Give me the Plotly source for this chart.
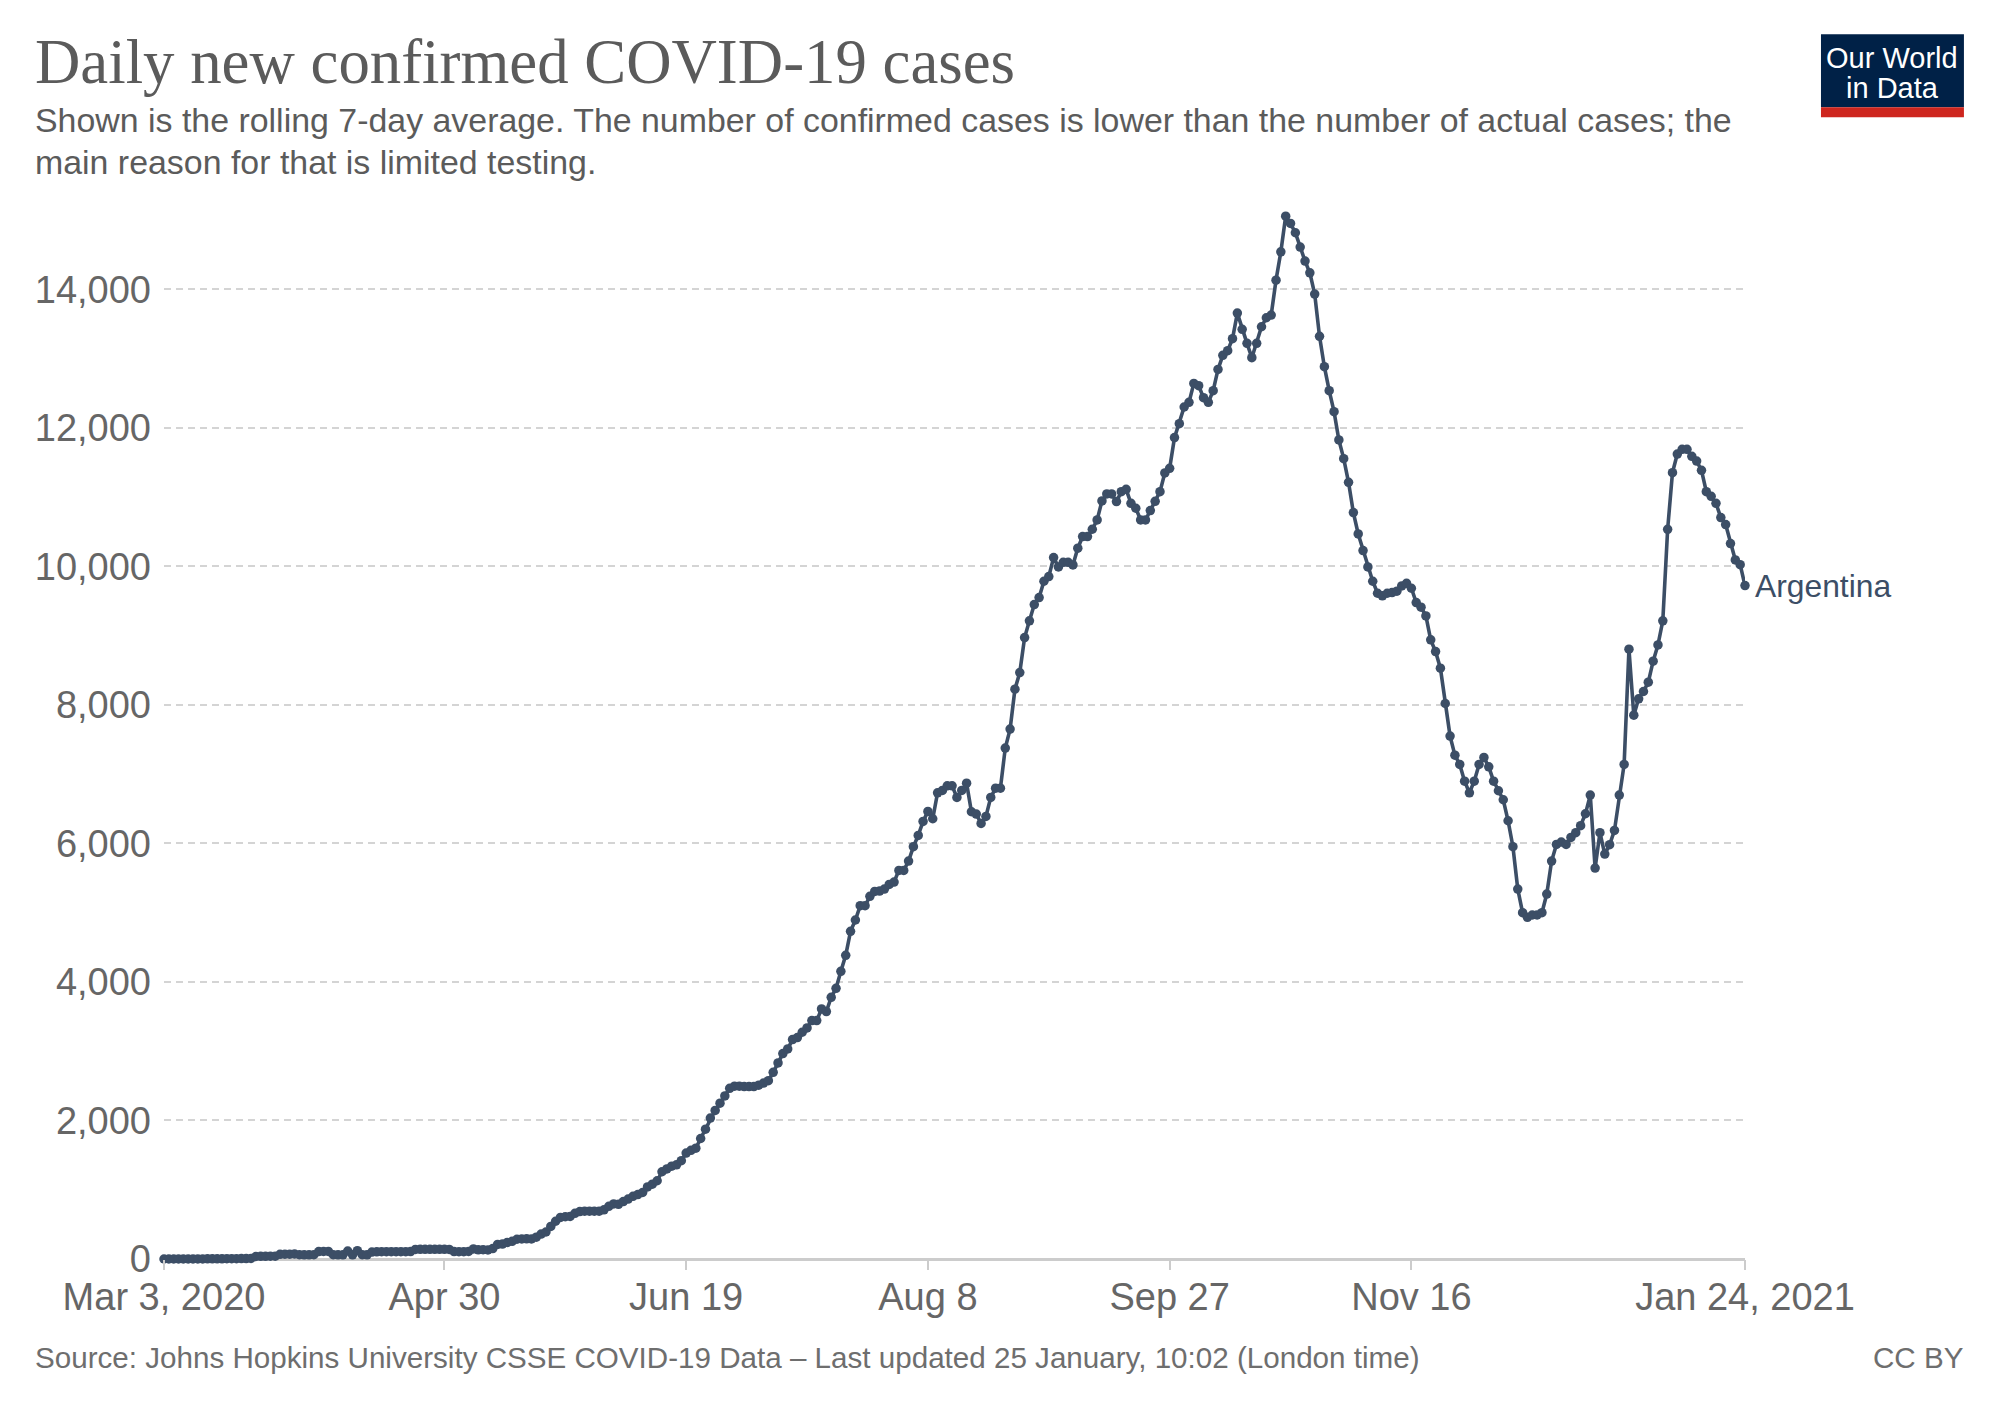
import pandas as pd
import plotly.graph_objects as go

title = "Daily new confirmed COVID-19 cases"
subtitle = ["Shown is the rolling 7-day average. The number of confirmed cases is lower than the number of actual cases; the",
            "main reason for that is limited testing."]
source = "Source: Johns Hopkins University CSSE COVID-19 Data – Last updated 25 January, 10:02 (London time)"
licence = "CC BY"
country = "Argentina"
start_date = "2020-03-03"

tick_dates = ["2020-03-03", "2020-04-30", "2020-06-19", "2020-08-08", "2020-09-27", "2020-11-16", "2021-01-24"]
tick_labels = ["Mar 3, 2020", "Apr 30", "Jun 19", "Aug 8", "Sep 27", "Nov 16", "Jan 24, 2021"]
y_ticks = [0, 2000, 4000, 6000, 8000, 10000, 12000, 14000]

cases_a = [0, 0, 0, 0, 0, 0, 1, 1, 1, 2, 2, 3, 3, 4, 5, 5, 6, 7, 8,
           36, 38, 38, 40, 40, 68, 70, 70, 72, 62, 60, 60, 62, 108, 110, 110, 62, 60, 60,
           115, 60, 120, 62, 60, 100, 104, 105, 105, 105, 105, 105, 106, 108,
           138, 140, 140, 140, 140, 140, 140, 138, 108, 105, 105, 110, 145, 132, 135, 130, 150]
cases_b = [210, 215, 240, 255, 285, 290, 292, 290, 315, 360, 390, 470, 545, 600, 610, 615, 660,
           685, 690, 690, 690, 690, 710, 760, 795, 790, 830, 865, 905, 930, 960, 1040, 1080, 1130,
           1260, 1300, 1340, 1360, 1420, 1530, 1570, 1600, 1740, 1875, 2035, 2145, 2250, 2355, 2465,
           2495, 2495, 2490, 2490, 2490, 2510, 2540, 2575]
cases_c = [2696, 2831, 2966, 3033, 3168, 3197, 3274, 3336, 3442, 3442, 3610, 3572, 3779, 3909, 4154,
           4385, 4731, 4895, 5101, 5101, 5236, 5308, 5313, 5342, 5409, 5443, 5611, 5611, 5746, 5953,
           6116, 6318, 6463, 6357, 6732, 6766, 6833, 6833, 6665, 6766, 6871, 6458, 6424, 6290, 6390]
cases_d = [6665, 6799, 6799, 7377, 7651, 8228, 8468, 8973, 9214, 9450, 9551, 9786, 9854, 10128, 9993,
           10060, 10060, 10022, 10263, 10431, 10431, 10537, 10671, 10946, 11047, 11047, 10936, 11080,
           11114, 10912, 10840, 10671, 10671, 10806, 10941, 11080, 11350, 11417, 11860, 12062, 12302,
           12369, 12643, 12610, 12437, 12369, 12538, 12845, 13048, 13115, 13288, 13658, 13423, 13221,
           13014, 13221, 13461, 13591, 13630]
cases_e = [14134, 14543, 15058, 14952, 14818, 14611, 14409, 14240, 13933, 13322, 12884, 12538, 12235,
           11826, 11556, 11215, 10777, 10469, 10229, 9993, 9786, 9613, 9575, 9613, 9623, 9642, 9719,
           9757, 9685, 9478, 9411, 9286, 8940, 8771, 8531, 8021, 7550, 7275, 7141, 6900, 6732, 6900,
           7141, 7242, 7107, 6900, 6761, 6631, 6328, 5953, 5342, 5000]
cases_f = [4933, 4967, 4967, 5000, 5270, 5746, 5986, 6020, 5986, 6087, 6155, 6256, 6429, 6698, 5645,
           6155, 5847, 5982, 6188, 6698, 7141, 8805, 7853, 8088, 8194, 8329, 8632, 8867, 9214, 10536,
           11354, 11623, 11691, 11691, 11590, 11522, 11388, 11080, 11013, 10911, 10705, 10604, 10330,
           10094, 10026, 9723]

cases = cases_a + cases_b + cases_c + cases_d + cases_e + cases_f
dates = pd.date_range(start_date, periods=len(cases), freq="D")

W, H = 2000, 1412
L, R = 163.5, 1745.0
T, B = 215.8, 1259.5
def px(x): return (x - L) / (R - L)
def py(y): return (B - y) / (B - T)

INK = "#3c4e66"
GREY = "#5b5b5b"

fig = go.Figure()
fig.add_trace(go.Scatter(x=dates, y=cases, mode="lines+markers", cliponaxis=False,
                         line=dict(color=INK, width=3.6), marker=dict(color=INK, size=9.5),
                         showlegend=False))

def label(text, x, y, size, color=GREY, family="Liberation Sans", xanchor="left"):
    fig.add_annotation(text=text, x=px(x), y=py(y), xref="paper", yref="paper", showarrow=False,
                       xanchor=xanchor, yanchor="middle", align=xanchor,
                       font=dict(size=size, color=color, family=family))

label(title, 32, 62, 62.8, family="Liberation Serif")
label(subtitle[0], 32, 120, 33.9)
label(subtitle[1], 32, 162, 33.9)
label(source, 32, 1358, 29.6, color="#6e6e6e")
label(licence, 1966, 1358, 29.6, color="#6e6e6e", xanchor="right")
label("Our World", 1892.5, 58, 29, color="#ffffff", xanchor="center")
label("in Data", 1892.5, 88, 29, color="#ffffff", xanchor="center")

fig.add_shape(type="rect", xref="paper", yref="paper", x0=px(1821), x1=px(1964), y0=py(34), y1=py(107),
              fillcolor="#002147", line_width=0, layer="below")
fig.add_shape(type="rect", xref="paper", yref="paper", x0=px(1821), x1=px(1964), y0=py(107), y1=py(117),
              fillcolor="#ce261e", line_width=0, layer="below")

fig.add_annotation(text=country, x=dates[-1], y=cases[-1], xref="x", yref="y", showarrow=False,
                   xanchor="left", yanchor="middle", xshift=8,
                   font=dict(size=31.8, color=INK, family="Liberation Sans"))

fig.update_layout(width=W, height=H, autosize=False, paper_bgcolor="white", plot_bgcolor="white",
                  margin=dict(l=L, r=W - R, t=T, b=H - B))
fig.update_xaxes(type="date", range=[dates[0], dates[-1]], tickvals=tick_dates, ticktext=tick_labels,
                 showgrid=False, showline=False, ticks="outside", ticklen=10, ticklabelstandoff=-6,
                 tickwidth=1.5, tickcolor="#cccccc", tickfont=dict(size=38, color="#666666", family="Liberation Sans"),
                 zeroline=False)
fig.update_yaxes(range=[0, 15060], tickvals=y_ticks, tickformat=",", showgrid=True, gridcolor="#d4d4d4",
                 griddash="7px,5px", gridwidth=1.5, zeroline=True, zerolinecolor="#cccccc", zerolinewidth=2.5,
                 showline=False, ticks="", ticklabelstandoff=12,
                 tickfont=dict(size=38, color="#666666", family="Liberation Sans"))

fig.write_html("out.html", config=dict(displayModeBar=False), post_script="document.body.style.margin='0';")
